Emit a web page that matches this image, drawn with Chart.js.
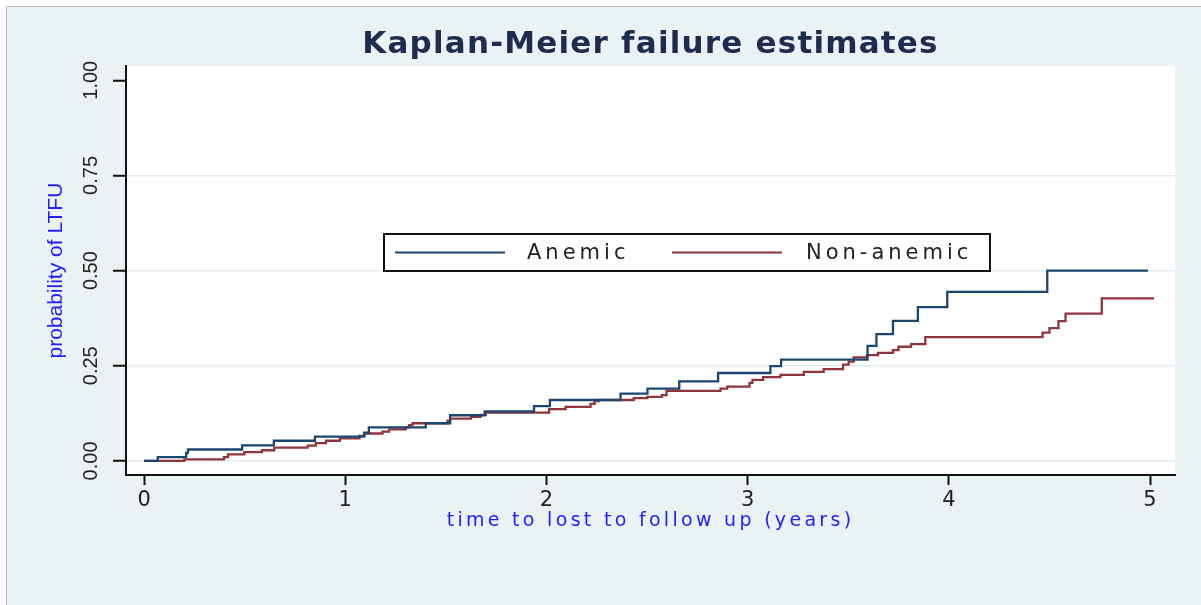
<!DOCTYPE html>
<html>
<head>
<meta charset="utf-8">
<title>Kaplan-Meier failure estimates</title>
<script src="https://cdn.jsdelivr.net/npm/chart.js@4.4.1/dist/chart.umd.min.js"></script>
<style>
    html, body { margin: 0; padding: 0; background: #fff; }
    canvas { display: block; }
</style>
</head>
<body>
<canvas id="km" width="1201" height="605"></canvas>
<script>
/* Kaplan-Meier failure estimates — anemic vs non-anemic */

const xTicks = [0, 1, 2, 3, 4, 5];
const yTicks = [0, 0.25, 0.5, 0.75, 1];

// Anemic group: time (years) where the failure curve steps, and the value after the step
const anemicTime = [0, 0.068, 0.209, 0.218, 0.487, 0.645, 0.849, 1.094, 1.117, 1.400,
    1.521, 1.693, 1.938, 2.017, 2.368, 2.502, 2.660, 2.853, 3.113, 3.166,
    3.596, 3.640, 3.722, 3.846, 3.992, 4.489, 4.990];
const anemicProb = [0, 0.010, 0.021, 0.030, 0.041, 0.053, 0.064, 0.074, 0.088, 0.099,
    0.120, 0.130, 0.144, 0.160, 0.177, 0.190, 0.209, 0.231, 0.249, 0.266,
    0.302, 0.333, 0.368, 0.404, 0.444, 0.500, 0.500];

// Non-anemic group
const nonAnemicTime = [0, 0.200, 0.397, 0.417, 0.498, 0.586, 0.647, 0.813, 0.854, 0.904,
    0.973, 1.070, 1.094, 1.185, 1.218, 1.301, 1.317, 1.334, 1.508, 1.521,
    1.624, 1.673, 1.698, 2.013, 2.095, 2.219, 2.239, 2.259, 2.434, 2.501,
    2.574, 2.597, 2.865, 2.898, 3.009, 3.024, 3.077, 3.163, 3.279, 3.378,
    3.474, 3.502, 3.527, 3.593, 3.648, 3.722, 3.750, 3.812, 3.883, 4.466,
    4.500, 4.545, 4.580, 4.760, 5.020];
const nonAnemicProb = [0, 0.004, 0.010, 0.017, 0.023, 0.028, 0.035, 0.040, 0.047, 0.053,
    0.059, 0.066, 0.072, 0.077, 0.083, 0.088, 0.094, 0.099, 0.106, 0.111,
    0.116, 0.121, 0.127, 0.136, 0.142, 0.150, 0.157, 0.160, 0.165, 0.168,
    0.173, 0.184, 0.190, 0.195, 0.205, 0.213, 0.220, 0.226, 0.234, 0.241,
    0.253, 0.261, 0.272, 0.278, 0.284, 0.291, 0.300, 0.307, 0.325, 0.337,
    0.349, 0.367, 0.387, 0.427, 0.427];

const BG = '#eaf2f3';
const SANS = "'Liberation Sans', Arial, sans-serif";
const WIDE = "'DejaVu Sans', Verdana, sans-serif";

const toPoints = (ts, ps) => ts.map((t, i) => ({ x: t, y: ps[i] }));

// wrap a draw method so its text is letter-spaced (Stata-like wide text)
function spaced(obj, method, spacing) {
    if (!obj || obj['_spaced_' + method]) return;
    const orig = obj[method];
    obj[method] = function (...args) {
        this.ctx.save();
        this.ctx.letterSpacing = spacing;
        orig.apply(this, args);
        this.ctx.restore();
    };
    obj['_spaced_' + method] = true;
}

const background = {
    id: 'background',
    beforeDraw(chart) {
        const { ctx, chartArea: a } = chart;
        ctx.save();
        ctx.fillStyle = '#fff';
        ctx.fillRect(0, 0, chart.width, chart.height);
        ctx.fillStyle = BG;
        ctx.fillRect(6, 6, chart.width - 6, chart.height - 6);
        ctx.strokeStyle = '#b9bfc2';
        ctx.lineWidth = 1;
        ctx.beginPath();
        ctx.moveTo(6.5, chart.height); ctx.lineTo(6.5, 6.5); ctx.lineTo(chart.width, 6.5);
        ctx.stroke();
        ctx.fillStyle = '#fff';
        ctx.fillRect(a.left, a.top, a.right - a.left, a.bottom - a.top);
        ctx.restore();

        spaced(chart.titleBlock, 'draw', '1.2px');
        spaced(chart.scales.x, 'drawTitle', '3.3px');
    }
};

// boxed legend sitting inside the plot region
const kmLegend = {
    id: 'kmLegend',
    afterDraw(chart, args, opts) {
        const { ctx } = chart;
        ctx.save();
        ctx.fillStyle = '#fff';
        ctx.fillRect(opts.x, opts.y, opts.w, opts.h);
        ctx.strokeStyle = '#111';
        ctx.lineWidth = 2;
        ctx.strokeRect(opts.x, opts.y, opts.w, opts.h);
        const cy = opts.y + opts.h / 2;
        ctx.font = '21px ' + WIDE;
        ctx.letterSpacing = '4px';
        ctx.textBaseline = 'middle';
        ctx.textAlign = 'left';
        chart.data.datasets.forEach((ds, i) => {
            ctx.strokeStyle = ds.borderColor;
            ctx.lineWidth = 2;
            ctx.beginPath();
            ctx.moveTo(opts.lineX[i], cy);
            ctx.lineTo(opts.lineX[i] + opts.lineLen, cy);
            ctx.stroke();
            ctx.fillStyle = '#222';
            ctx.fillText(ds.label, opts.textX[i], cy + 1);
        });
        ctx.restore();
    }
};

new Chart(document.getElementById('km'), {
    type: 'line',
    data: {
        datasets: [
            {
                label: 'Anemic',
                data: toPoints(anemicTime, anemicProb),
                borderColor: '#1a476f',
                borderWidth: 2.3,
                stepped: 'before',
                pointRadius: 0,
                fill: false,
            },
            {
                label: 'Non-anemic',
                data: toPoints(nonAnemicTime, nonAnemicProb),
                borderColor: '#90353b',
                borderWidth: 2.3,
                stepped: 'before',
                pointRadius: 0,
                fill: false,
            },
        ],
    },
    options: {
        responsive: false,
        animation: false,
        devicePixelRatio: 1,
        layout: { padding: { left: 10, top: 6, right: 26, bottom: 0 } },
        plugins: {
            legend: { display: false },
            tooltip: { enabled: false },
            title: {
                display: true,
                text: 'Kaplan-Meier failure estimates',
                fullSize: false,
                color: '#1f2b4f',
                font: { family: WIDE, size: 31, weight: 'bold' },
                padding: { top: 20, bottom: 3 },
            },
            kmLegend: { x: 384, y: 234, w: 606, h: 37, lineX: [395, 672], lineLen: 110, textX: [527, 806] },
        },
        scales: {
            x: {
                type: 'linear',
                min: -0.09,
                max: 5.124,
                afterBuildTicks: s => { s.ticks = xTicks.map(v => ({ value: v })); },
                afterFit: s => { s.height = 130; },
                grid: { drawOnChartArea: false, tickLength: 10, tickColor: '#111', tickWidth: 2 },
                border: { color: '#111', width: 2 },
                ticks: { padding: 3, color: '#222', maxRotation: 0, autoSkip: false, font: { family: WIDE, size: 21 } },
                title: {
                    display: true,
                    text: 'time to lost to follow up (years)',
                    color: '#1f1fff',
                    font: { family: WIDE, size: 19 },
                    padding: { top: 0, bottom: 73 },
                },
            },
            y: {
                type: 'linear',
                min: -0.037,
                max: 1.037,
                afterBuildTicks: s => { s.ticks = yTicks.map(v => ({ value: v })); },
                afterFit: s => { s.width = 116; },
                grid: {
                    color: c => (c.tick && c.tick.value === 1 ? 'rgba(0,0,0,0)' : '#e2ebed'),
                    lineWidth: 1.5,
                    tickLength: 13,
                    tickColor: '#111',
                    tickWidth: 2,
                },
                border: { color: '#111', width: 2 },
                ticks: {
                    minRotation: 90,
                    maxRotation: 90,
                    crossAlign: 'center',
                    padding: 2,
                    color: '#222',
                    font: { family: SANS, size: 20 },
                    callback: v => v.toFixed(2),
                },
                title: {
                    display: true,
                    text: 'probability of LTFU',
                    color: '#1f1fff',
                    font: { family: SANS, size: 21 },
                    padding: { top: 34, bottom: 0 },
                },
            },
        },
    },
    plugins: [background, kmLegend],
});
</script>
</body>
</html>
